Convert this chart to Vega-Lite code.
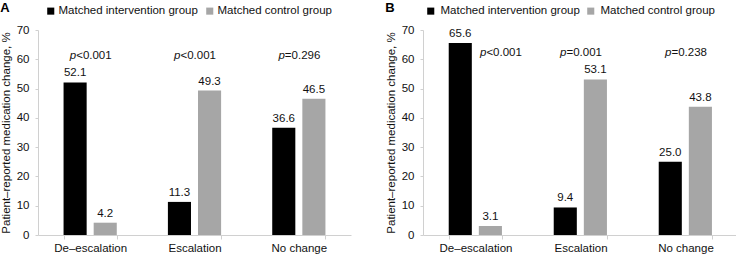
{
  "$schema": "https://vega.github.io/schema/vega-lite/v6.json",
  "padding": {"left": 0, "top": 2, "right": 0, "bottom": 2},
  "background": "white",
  "config": {
    "font": "Liberation Sans",
    "view": {"stroke": null},
    "concat": {"spacing": 34},
    "axis": {"labelFont": "Liberation Sans", "titleFont": "Liberation Sans", "labelColor": "#111111", "titleColor": "#111111", "domainColor": "#d0d0d0", "tickColor": "#d0d0d0", "grid": false, "labelFontSize": 11.5, "titleFontSize": 11.5, "titleFontWeight": "normal"},
    "legend": {"labelFont": "Liberation Sans", "labelFontSize": 11.5, "labelColor": "#111111"},
    "title": {"font": "Liberation Sans", "fontSize": 13, "fontWeight": "bold", "anchor": "start", "frame": "bounds"}
  },
  "datasets": {
    "bars": [
      {"panel": "A", "category": "De–escalation", "group": "Matched intervention group", "value": 52.1},
      {"panel": "A", "category": "De–escalation", "group": "Matched control group", "value": 4.2},
      {"panel": "A", "category": "Escalation", "group": "Matched intervention group", "value": 11.3},
      {"panel": "A", "category": "Escalation", "group": "Matched control group", "value": 49.3},
      {"panel": "A", "category": "No change", "group": "Matched intervention group", "value": 36.6},
      {"panel": "A", "category": "No change", "group": "Matched control group", "value": 46.5},
      {"panel": "B", "category": "De–escalation", "group": "Matched intervention group", "value": 65.6},
      {"panel": "B", "category": "De–escalation", "group": "Matched control group", "value": 3.1},
      {"panel": "B", "category": "Escalation", "group": "Matched intervention group", "value": 9.4},
      {"panel": "B", "category": "Escalation", "group": "Matched control group", "value": 53.1},
      {"panel": "B", "category": "No change", "group": "Matched intervention group", "value": 25.0},
      {"panel": "B", "category": "No change", "group": "Matched control group", "value": 43.8}
    ],
    "pvals": [
      {"panel": "A", "category": "De–escalation", "rest": "<0.001", "over": "none", "value": 61},
      {"panel": "A", "category": "Escalation", "rest": "<0.001", "over": "none", "value": 61},
      {"panel": "A", "category": "No change", "rest": "=0.296", "over": "none", "value": 61},
      {"panel": "B", "category": "De–escalation", "rest": "<0.001", "over": "Matched control group", "value": 62},
      {"panel": "B", "category": "Escalation", "rest": "=0.001", "over": "none", "value": 62},
      {"panel": "B", "category": "No change", "rest": "=0.238", "over": "none", "value": 62}
    ]
  },
  "hconcat": [
    {
      "title": {"text": "A", "offset": -10},
      "width": 313,
      "height": 205,
      "encoding": {
        "x": {"field": "category", "type": "nominal", "sort": ["De–escalation", "Escalation", "No change"], "scale": {"paddingInner": 0.49, "paddingOuter": 0.245}, "axis": {"title": null, "labelAngle": 0, "tickBand": "extent", "tickSize": 4, "labelPadding": 3}},
        "y": {"field": "value", "type": "quantitative", "scale": {"domain": [0, 70]}, "axis": {"title": "Patient–reported medication change, %", "values": [0, 10, 20, 30, 40, 50, 60, 70], "tickSize": 3, "labelPadding": 6, "titlePadding": 5}}
      },
      "layer": [
        {
          "data": {"name": "bars"},
          "transform": [{"filter": "datum.panel === 'A'"}],
          "mark": {"type": "bar"},
          "encoding": {
            "xOffset": {"field": "group", "type": "nominal", "scale": {"domain": ["Matched intervention group", "Matched control group"], "paddingInner": 0.233, "paddingOuter": 0}},
            "color": {"field": "group", "type": "nominal", "scale": {"domain": ["Matched intervention group", "Matched control group"], "range": ["#000000", "#a6a6a6"]}, "legend": {"title": null, "orient": "none", "direction": "horizontal", "legendX": 7, "legendY": -25, "symbolType": "square", "symbolSize": 50, "symbolStrokeWidth": 0, "columnPadding": 6, "labelOffset": 2}}
          }
        },
        {
          "data": {"name": "bars"},
          "transform": [{"filter": "datum.panel === 'A'"}],
          "mark": {"type": "text", "baseline": "bottom", "dy": -4, "fontSize": 11.5, "color": "#111111", "font": "Liberation Sans"},
          "encoding": {
            "xOffset": {"field": "group", "type": "nominal", "scale": {"domain": ["Matched intervention group", "Matched control group"], "paddingInner": 0.233, "paddingOuter": 0}},
            "text": {"field": "value", "type": "quantitative", "format": ".1f"}
          }
        },
        {
          "data": {"name": "pvals"},
          "transform": [{"filter": "datum.panel === 'A'"}],
          "mark": {"type": "text", "align": "right", "baseline": "middle", "dx": -14, "fontSize": 11.5, "fontStyle": "italic", "color": "#111111", "font": "Liberation Sans"},
          "encoding": {"text": {"value": "p"}}
        },
        {
          "data": {"name": "pvals"},
          "transform": [{"filter": "datum.panel === 'A'"}],
          "mark": {"type": "text", "align": "left", "baseline": "middle", "dx": -14, "fontSize": 11.5, "color": "#111111", "font": "Liberation Sans"},
          "encoding": {"text": {"field": "rest", "type": "nominal"}}
        }
      ]
    },
    {
      "title": {"text": "B", "offset": -10},
      "width": 315,
      "height": 205,
      "encoding": {
        "x": {"field": "category", "type": "nominal", "sort": ["De–escalation", "Escalation", "No change"], "scale": {"paddingInner": 0.49, "paddingOuter": 0.245}, "axis": {"title": null, "labelAngle": 0, "tickBand": "extent", "tickSize": 4, "labelPadding": 3}},
        "y": {"field": "value", "type": "quantitative", "scale": {"domain": [0, 70]}, "axis": {"title": "Patient–reported medication change, %", "values": [0, 10, 20, 30, 40, 50, 60, 70], "tickSize": 3, "labelPadding": 6, "titlePadding": 5}}
      },
      "layer": [
        {
          "data": {"name": "bars"},
          "transform": [{"filter": "datum.panel === 'B'"}],
          "mark": {"type": "bar"},
          "encoding": {
            "xOffset": {"field": "group", "type": "nominal", "scale": {"domain": ["Matched intervention group", "Matched control group"], "paddingInner": 0.233, "paddingOuter": 0}},
            "color": {"field": "group", "type": "nominal", "scale": {"domain": ["Matched intervention group", "Matched control group"], "range": ["#000000", "#a6a6a6"]}, "legend": {"title": null, "orient": "none", "direction": "horizontal", "legendX": 2, "legendY": -25, "symbolType": "square", "symbolSize": 50, "symbolStrokeWidth": 0, "columnPadding": 5, "labelOffset": 4}}
          }
        },
        {
          "data": {"name": "bars"},
          "transform": [{"filter": "datum.panel === 'B'"}],
          "mark": {"type": "text", "baseline": "bottom", "dy": -4, "fontSize": 11.5, "color": "#111111", "font": "Liberation Sans"},
          "encoding": {
            "xOffset": {"field": "group", "type": "nominal", "scale": {"domain": ["Matched intervention group", "Matched control group"], "paddingInner": 0.233, "paddingOuter": 0}},
            "text": {"field": "value", "type": "quantitative", "format": ".1f"}
          }
        },
        {
          "data": {"name": "pvals"},
          "transform": [{"filter": "datum.panel === 'B' && datum.over === 'none'"}],
          "mark": {"type": "text", "align": "right", "baseline": "middle", "dx": -14, "fontSize": 11.5, "fontStyle": "italic", "color": "#111111", "font": "Liberation Sans"},
          "encoding": {"text": {"value": "p"}}
        },
        {
          "data": {"name": "pvals"},
          "transform": [{"filter": "datum.panel === 'B' && datum.over === 'none'"}],
          "mark": {"type": "text", "align": "left", "baseline": "middle", "dx": -14, "fontSize": 11.5, "color": "#111111", "font": "Liberation Sans"},
          "encoding": {"text": {"field": "rest", "type": "nominal"}}
        },
        {
          "data": {"name": "pvals"},
          "transform": [{"filter": "datum.panel === 'B' && datum.over !== 'none'"}],
          "mark": {"type": "text", "align": "right", "baseline": "middle", "dx": -4, "fontSize": 11.5, "fontStyle": "italic", "color": "#111111", "font": "Liberation Sans"},
          "encoding": {"xOffset": {"field": "over", "type": "nominal", "scale": {"domain": ["Matched intervention group", "Matched control group"], "paddingInner": 0.233, "paddingOuter": 0}}, "text": {"value": "p"}}
        },
        {
          "data": {"name": "pvals"},
          "transform": [{"filter": "datum.panel === 'B' && datum.over !== 'none'"}],
          "mark": {"type": "text", "align": "left", "baseline": "middle", "dx": -4, "fontSize": 11.5, "color": "#111111", "font": "Liberation Sans"},
          "encoding": {"xOffset": {"field": "over", "type": "nominal", "scale": {"domain": ["Matched intervention group", "Matched control group"], "paddingInner": 0.233, "paddingOuter": 0}}, "text": {"field": "rest", "type": "nominal"}}
        }
      ]
    }
  ],
  "resolve": {"scale": {"color": "independent"}, "legend": {"color": "independent"}}
}
